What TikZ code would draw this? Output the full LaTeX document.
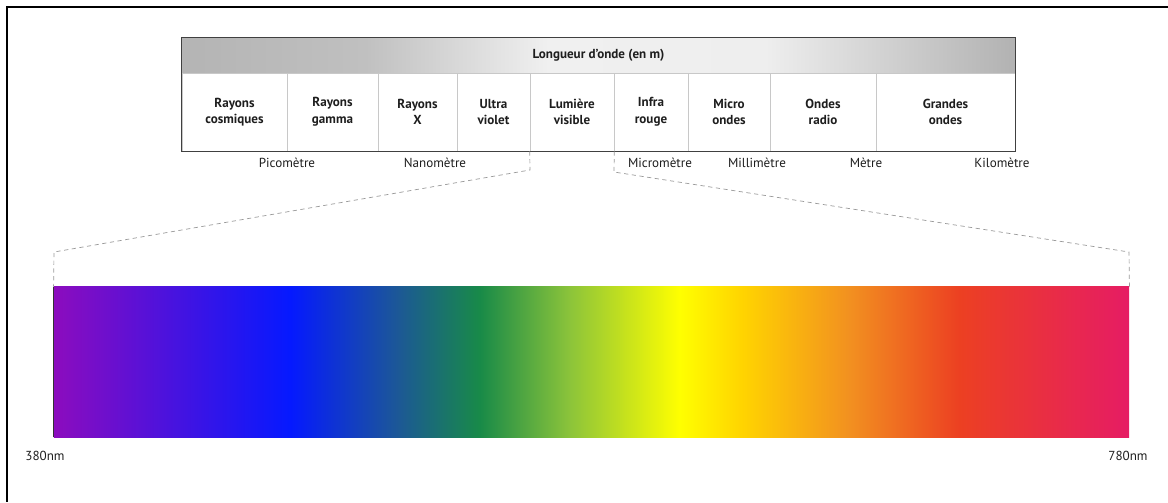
\documentclass[tikz,border=0pt]{standalone}
\usepackage{fontspec}
\setmainfont{PT Sans}
\usepackage{xcolor}
\definecolor{textgray}{RGB}{30,30,30}
\definecolor{sepgray}{RGB}{200,200,200}
\usepackage{tikz}
\usetikzlibrary{positioning,calc}

\pgfdeclarehorizontalshading{spectre}{100bp}{
  color(0bp)=(rgb,255:red,140;green,12;blue,190);
  color(25bp)=(rgb,255:red,140;green,12;blue,190);
  color(36bp)=(rgb,255:red,5;green,25;blue,255);
  color(41bp)=(rgb,255:red,28;green,88;blue,150);
  color(44.8bp)=(rgb,255:red,24;green,138;blue,72);
  color(49bp)=(rgb,255:red,140;green,196;blue,58);
  color(54.1bp)=(rgb,255:red,255;green,255;blue,0);
  color(57bp)=(rgb,255:red,255;green,212;blue,0);
  color(62bp)=(rgb,255:red,242;green,144;blue,32);
  color(67.1bp)=(rgb,255:red,236;green,64;blue,34);
  color(75bp)=(rgb,255:red,230;green,28;blue,100);
  color(100bp)=(rgb,255:red,230;green,28;blue,100)}
\pgfdeclarehorizontalshading{entete}{100bp}{
  color(0bp)=(rgb,255:red,180;green,180;blue,180);
  color(25bp)=(rgb,255:red,180;green,180;blue,180);
  color(36bp)=(rgb,255:red,192;green,192;blue,192);
  color(47bp)=(rgb,255:red,240;green,240;blue,240);
  color(60bp)=(rgb,255:red,238;green,238;blue,238);
  color(75bp)=(rgb,255:red,178;green,178;blue,178);
  color(100bp)=(rgb,255:red,178;green,178;blue,178)}

\begin{document}
\begin{tikzpicture}[x=0.025cm, y=-0.025cm, cell/.style = {draw=sepgray, inner sep=0pt, minimum height=1.95cm, align=center, font=\fontsize{9.3}{11.8}\selectfont\bfseries, text=textgray}, unit/.style = {font=\fontsize{9.3}{11}\selectfont, text=textgray, inner sep=0pt}, zoomline/.style = {draw=black!40, dash pattern=on 3pt off 2.5pt, line width=0.5pt}]
\useasboundingbox (0,0) rectangle (1168,502);

% cadre
\draw[line width=1pt] (1168,7) -- (7,7) -- (7,502);

% tableau
\node[shading=entete, inner sep=0pt, minimum width=20.825cm, minimum height=0.875cm, font=\fontsize{9.3}{11}\selectfont\bfseries, text=textgray] (head) at (598.5,55.5) {Longueur d’onde (en m)};
\foreach \a/\b/\n/\t in {182/287/cosm/{Rayons\\cosmiques}, 287/378/gamma/{Rayons\\gamma}, 378/457/rx/{Rayons\\X}, 457/530/uv/{Ultra\\violet}, 530/614/vis/{Lumière\\visible}, 614/688/ir/{Infra\\rouge}, 688/770/micro/{Micro\\ondes}, 770/876/radio/{Ondes\\radio}, 876/1015/grandes/{Grandes\\ondes}}{
  \pgfmathsetmacro\w{(\b-\a)*0.025}
  \node[cell, minimum width=\w cm] (\n) at ({(\a+\b)/2},112) {\t};
}
\draw[black!75, line width=1pt] (head.north west) rectangle (grandes.south east);

% echelles
\node[unit] (pico) at (287,163) {Picomètre};
\node[unit] (nano) at (435,163) {Nanomètre};
\node[unit] (microm) at (660,163) {Micromètre};
\node[unit] (milli) at (757,163) {Millimètre};
\node[unit] (metre) at (866,163) {Mètre};
\node[unit] (kilo) at (1002,163) {Kilomètre};

% spectre visible
\node[shading=spectre, inner sep=0pt, minimum width=26.875cm, minimum height=3.75cm] (bar) at (591.5,362) {};
\draw[black!80, line width=0.8pt] (bar.north west) -- (bar.south west);

\coordinate (vl) at (530,170);
\coordinate (vr) at (614,172);
\coordinate (bl) at (54,252);
\coordinate (br) at (1129,252);
\path[zoomline] (vis.south west) -- (vl) -- (bl) -- (bar.north west);
\path[zoomline] (vis.south east) -- (vr) -- (br) -- (bar.north east);

\node[unit] (min) at (45,456) {380nm};
\node[unit] (max) at (1128,456) {780nm};
\end{tikzpicture}
\end{document}
